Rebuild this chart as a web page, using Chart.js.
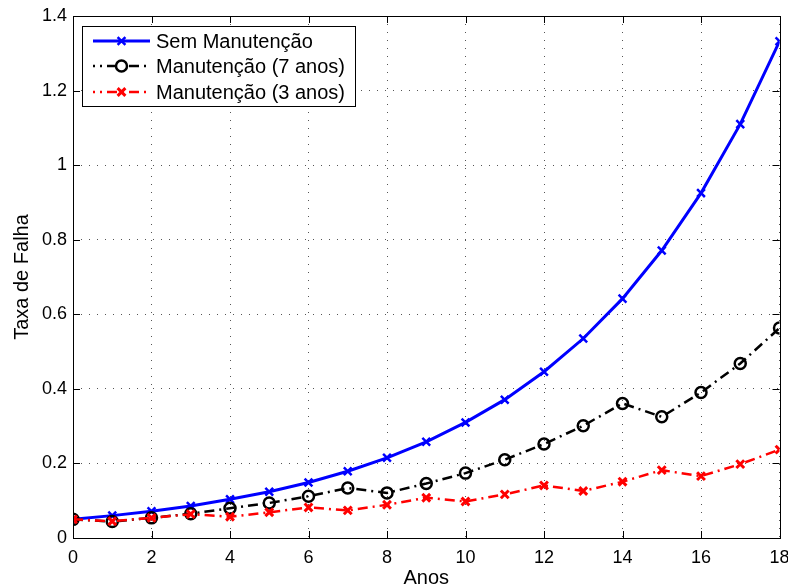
<!DOCTYPE html>
<html>
<head>
<meta charset="utf-8">
<script src="https://cdn.jsdelivr.net/npm/chart.js@4"></script>
<style>
  html, body { margin: 0; padding: 0; background: #fff; }
  #wrap { width: 788px; height: 588px; }
</style>
</head>
<body>
<div id="wrap"><canvas id="chart-falha"></canvas></div>
<script>
// Data
var anos = [0, 1, 2, 3, 4, 5, 6, 7, 8, 9, 10, 11, 12, 13, 14, 15, 16, 17, 18];
var semManutencao = [0.05, 0.06, 0.072, 0.086, 0.104, 0.124, 0.149, 0.179, 0.215, 0.258, 0.31, 0.371, 0.446, 0.535, 0.642, 0.771, 0.925, 1.11, 1.332];
var manut7 = [0.05, 0.044, 0.054, 0.065, 0.08, 0.094, 0.112, 0.134, 0.121, 0.146, 0.174, 0.21, 0.252, 0.301, 0.361, 0.325, 0.39, 0.468, 0.563];
var manut3 = [0.05, 0.045, 0.054, 0.064, 0.057, 0.069, 0.082, 0.074, 0.089, 0.108, 0.098, 0.117, 0.141, 0.126, 0.151, 0.182, 0.166, 0.198, 0.237];

var seriesNames = ["Sem Manutenção", "Manutenção (7 anos)", "Manutenção (3 anos)"];
var xTicks = [0, 2, 4, 6, 8, 10, 12, 14, 16, 18];
var xTickLabels = ["0", "2", "4", "6", "8", "10", "12", "14", "16", "18"];
var yTicks = [0, 0.2, 0.4, 0.6, 0.8, 1, 1.2, 1.4];
var yTickLabels = ["0", "0.2", "0.4", "0.6", "0.8", "1", "1.2", "1.4"];

function pts(ys) {
  return anos.map(function (a, i) { return { x: a, y: ys[i] }; });
}

var FONT = "'Liberation Sans', Arial, Helvetica, sans-serif";
var dashDot = [10, 5, 2, 5];

// MATLAB-like box with inward ticks + legend drawn inside the axes
var boxPlugin = {
  id: "matlabBox",
  afterDraw: function (chart) {
    var ctx = chart.ctx;
    var a = chart.chartArea;
    var xs = chart.scales.x, ys = chart.scales.y;
    ctx.save();
    ctx.strokeStyle = "#000";
    ctx.lineWidth = 1;
    ctx.strokeRect(Math.round(a.left) + 0.5, Math.round(a.top) + 0.5, Math.round(a.right - a.left), Math.round(a.bottom - a.top));
    var tl = 7;
    ctx.beginPath();
    xTicks.forEach(function (v) {
      var px = Math.round(xs.getPixelForValue(v)) + 0.5;
      ctx.moveTo(px, a.bottom); ctx.lineTo(px, a.bottom - tl);
      ctx.moveTo(px, a.top); ctx.lineTo(px, a.top + tl);
    });
    yTicks.forEach(function (v) {
      var py = Math.round(ys.getPixelForValue(v)) + 0.5;
      ctx.moveTo(a.left, py); ctx.lineTo(a.left + tl, py);
      ctx.moveTo(a.right, py); ctx.lineTo(a.right - tl, py);
    });
    ctx.stroke();

    // legend
    var lx = 82.5, ly = 26.5, lw = 273, lh = 80;
    ctx.fillStyle = "#fff";
    ctx.fillRect(lx, ly, lw, lh);
    ctx.strokeRect(lx, ly, lw, lh);
    var rows = [41, 66, 92];
    chart.data.datasets.forEach(function (ds, i) {
      var y = rows[i];
      ctx.save();
      ctx.strokeStyle = ds.borderColor;
      ctx.lineWidth = ds.borderWidth;
      ctx.setLineDash(ds.borderDash || []);
      if (ds.borderDash) ctx.lineDashOffset = 8;
      ctx.beginPath();
      ctx.moveTo(93, y); ctx.lineTo(150, y);
      ctx.stroke();
      ctx.setLineDash([]);
      ctx.strokeStyle = ds.pointBorderColor;
      ctx.fillStyle = "#fff";
      ctx.lineWidth = ds.pointBorderWidth;
      Chart.helpers.drawPoint(ctx, {
        pointStyle: ds.pointStyle,
        radius: ds.pointRadius,
        borderWidth: ds.pointBorderWidth,
        rotation: 0
      }, 121.5, y);
      ctx.restore();
      ctx.fillStyle = "#000";
      ctx.font = "20px " + FONT;
      ctx.textBaseline = "middle";
      ctx.textAlign = "left";
      ctx.fillText(ds.label, 156, y + 1);
    });
    ctx.restore();
  }
};

var ctx = document.getElementById("chart-falha").getContext("2d");

new Chart(ctx, {
  type: "line",
  data: {
    datasets: [
      {
        label: seriesNames[0],
        data: pts(semManutencao),
        borderColor: "#0000ff",
        borderWidth: 3,
        pointStyle: "crossRot",
        pointRadius: 5.5,
        pointBorderWidth: 2.5,
        pointBorderColor: "#0000ff",
        pointBackgroundColor: "transparent",
        tension: 0,
        order: 3,
      },
      {
        label: seriesNames[1],
        data: pts(manut7),
        borderColor: "#000000",
        borderWidth: 2.5,
        borderDash: dashDot,
        pointStyle: "circle",
        pointRadius: 5.5,
        pointBorderWidth: 2.5,
        pointBorderColor: "#000000",
        pointBackgroundColor: "transparent",
        tension: 0,
        order: 2,
      },
      {
        label: seriesNames[2],
        data: pts(manut3),
        borderColor: "#ff0000",
        borderWidth: 2.5,
        borderDash: dashDot,
        pointStyle: "crossRot",
        pointRadius: 5.5,
        pointBorderWidth: 3,
        pointBorderColor: "#ff0000",
        pointBackgroundColor: "transparent",
        tension: 0,
        order: 1,
      },
    ],
  },
  plugins: [boxPlugin],
  options: {
    responsive: true,
    maintainAspectRatio: false,
    animation: false,
    layout: {
      padding: { top: 16, right: 8, left: 0, bottom: 0 },
    },
    plugins: {
      legend: { display: false },
      tooltip: { enabled: false },
    },
    scales: {
      x: {
        type: "linear",
        min: 0,
        max: 18,
        afterFit: function (scale) {
          scale.height = 50;
          scale.paddingLeft = 0;
          scale.paddingRight = 0;
        },
        afterBuildTicks: function (scale) {
          scale.ticks = xTicks.map(function (v) { return { value: v }; });
        },
        grid: {
          display: true,
          drawTicks: false,
          color: "#555",
          lineWidth: 1,
        },
        border: { display: false, dash: [1, 7] },
        ticks: {
          color: "#000",
          padding: 9,
          maxRotation: 0,
          autoSkip: false,
          font: { size: 18, family: FONT },
          callback: function (v, i) { return xTickLabels[i]; },
        },
        title: {
          display: true,
          text: "Anos",
          color: "#000",
          font: { size: 20, family: FONT, lineHeight: 1 },
          padding: { top: 0, bottom: 0 },
        },
      },
      y: {
        min: 0,
        max: 1.4,
        afterFit: function (scale) {
          scale.width = 73;
          scale.paddingTop = 0;
          scale.paddingBottom = 0;
        },
        afterBuildTicks: function (scale) {
          scale.ticks = yTicks.map(function (v) { return { value: v }; });
        },
        grid: {
          display: true,
          drawTicks: false,
          color: "#555",
          lineWidth: 1,
        },
        border: { display: false, dash: [1, 7] },
        ticks: {
          color: "#000",
          padding: 6,
          autoSkip: false,
          font: { size: 18, family: FONT },
          callback: function (v, i) { return yTickLabels[i]; },
        },
        title: {
          display: true,
          text: "Taxa de Falha",
          color: "#000",
          font: { size: 20, family: FONT, lineHeight: 1.2 },
          padding: { top: 10, bottom: 0 },
        },
      },
    },
  },
});
</script>
</body>
</html>
